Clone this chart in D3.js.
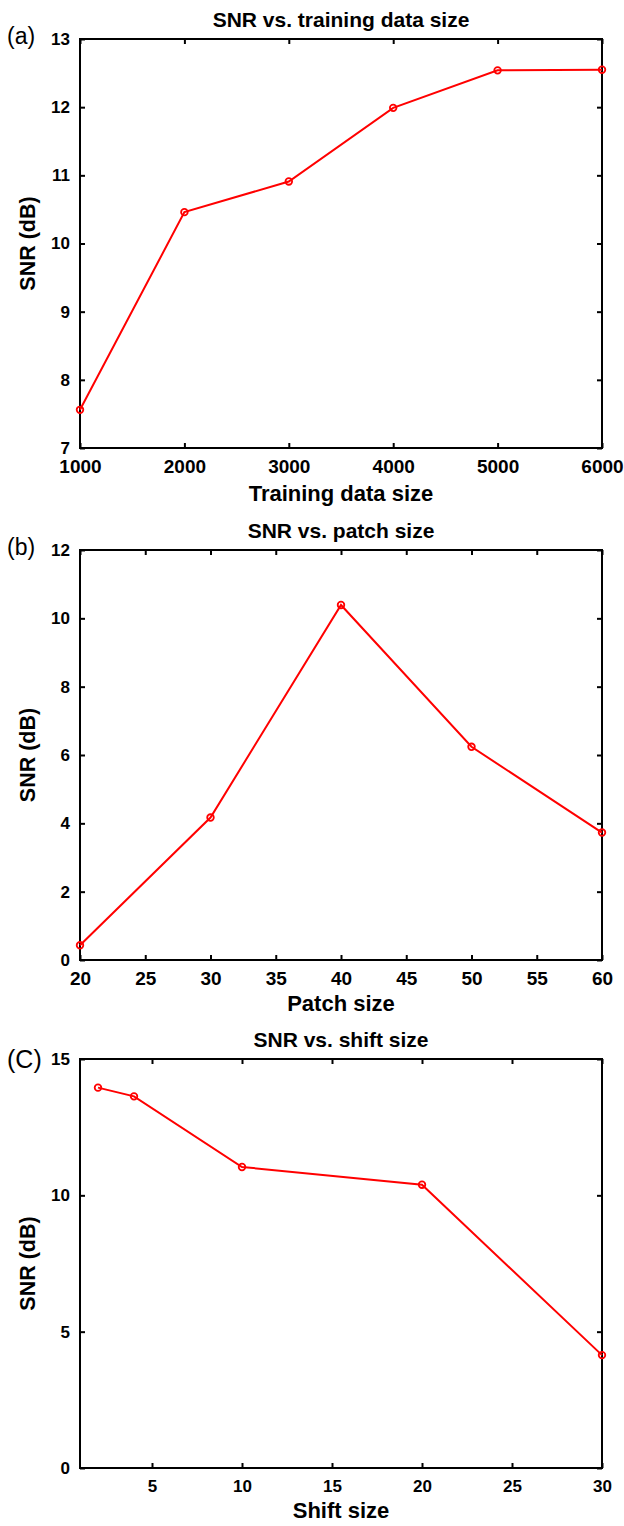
<!DOCTYPE html>
<html>
<head>
<meta charset="utf-8">
<script src="https://cdn.jsdelivr.net/npm/d3@7"></script>
<style>
  body { margin: 0; background: #fff; }
  svg text { font-family: "Liberation Sans", Arial, Helvetica, sans-serif; }
</style>
</head>
<body>
<div id="chart"></div>
<script>
// panel (a)
const trainSizes = [1000, 2000, 3000, 4000, 5000, 6000];
const trainSnr = [7.56, 10.46, 10.91, 11.99, 12.54, 12.55];
const trainXTicks = [1000, 2000, 3000, 4000, 5000, 6000];
const trainYTicks = [7, 8, 9, 10, 11, 12, 13];

// panel (b)
const patchSizes = [20, 30, 40, 50, 60];
const patchSnr = [0.43, 4.17, 10.39, 6.24, 3.73];
const patchXTicks = [20, 25, 30, 35, 40, 45, 50, 55, 60];
const patchYTicks = [0, 2, 4, 6, 8, 10, 12];

// panel (c)
const shiftSizes = [2, 4, 10, 20, 30];
const shiftSnr = [13.95, 13.63, 11.04, 10.39, 4.14];
const shiftXTicks = [5, 10, 15, 20, 25, 30];
const shiftYTicks = [0, 5, 10, 15];

const panels = [
  { tag: '(a)', tagSize: 23, tagDy: 5, title: 'SNR vs. training data size', xLabel: 'Training data size',
    xs: trainSizes, ys: trainSnr, xDomain: [1000, 6000], yDomain: [7, 13],
    xTicks: trainXTicks, yTicks: trainYTicks, top: 39, bottom: 448, xLabelDy: 53, xTickSize: 19 },
  { tag: '(b)', tagSize: 23, tagDy: 5, title: 'SNR vs. patch size', xLabel: 'Patch size',
    xs: patchSizes, ys: patchSnr, xDomain: [20, 60], yDomain: [0, 12],
    xTicks: patchXTicks, yTicks: patchYTicks, top: 550, bottom: 960, xLabelDy: 51, xTickSize: 19 },
  { tag: '(C)', tagSize: 25, tagDy: 9, title: 'SNR vs. shift size', xLabel: 'Shift size',
    xs: shiftSizes, ys: shiftSnr, xDomain: [1, 30], yDomain: [0, 15],
    xTicks: shiftXTicks, yTicks: shiftYTicks, top: 1059, bottom: 1468, xLabelDy: 50, xTickSize: 17 }
];

const W = 624, H = 1526;
const left = 80, right = 602;
const tickLen = 5;
const fmt = d3.format('d');

const svg = d3.select('#chart')
  .append('svg')
    .attr('width', W)
    .attr('height', H);

panels.forEach((p) => {
  const x = d3.scaleLinear().domain(p.xDomain).range([left, right]);
  const y = d3.scaleLinear().domain(p.yDomain).range([p.bottom, p.top]);
  const g = svg.append('g');

  // bottom / left axes, ticks pointing inward
  const xAxis = g.append('g')
    .attr('transform', 'translate(0,' + p.bottom + ')')
    .call(d3.axisBottom(x).tickValues(p.xTicks).tickFormat(fmt)
      .tickSizeInner(-tickLen).tickSizeOuter(0).tickPadding(12))
    .call((a) => a.select('.domain').remove());

  const yAxis = g.append('g')
    .attr('transform', 'translate(' + left + ',0)')
    .call(d3.axisLeft(y).tickValues(p.yTicks).tickFormat(fmt)
      .tickSizeInner(-tickLen).tickSizeOuter(0).tickPadding(10))
    .call((a) => a.select('.domain').remove());

  // mirrored ticks on top / right
  g.append('g')
    .attr('transform', 'translate(0,' + p.top + ')')
    .call(d3.axisTop(x).tickValues(p.xTicks).tickSizeInner(-tickLen).tickSizeOuter(0).tickFormat(''))
    .call((a) => a.select('.domain').remove());

  g.append('g')
    .attr('transform', 'translate(' + right + ',0)')
    .call(d3.axisRight(y).tickValues(p.yTicks).tickSizeInner(-tickLen).tickSizeOuter(0).tickFormat(''))
    .call((a) => a.select('.domain').remove());

  g.selectAll('.tick line')
    .attr('stroke', '#000')
    .attr('stroke-width', 2);

  xAxis.selectAll('.tick text')
    .attr('fill', '#000')
    .style('font-size', p.xTickSize + 'px')
    .style('font-weight', 'bold');

  yAxis.selectAll('.tick text')
    .attr('fill', '#000')
    .style('font-size', '17px')
    .style('font-weight', 'bold');

  // box
  g.append('rect')
    .attr('x', left)
    .attr('y', p.top)
    .attr('width', right - left)
    .attr('height', p.bottom - p.top)
    .attr('fill', 'none')
    .attr('stroke', '#000')
    .attr('stroke-width', 2);

  // data line
  const pts = p.xs.map((v, i) => [v, p.ys[i]]);
  g.append('path')
    .datum(pts)
    .attr('fill', 'none')
    .attr('stroke', '#ff0000')
    .attr('stroke-width', 2)
    .attr('d', d3.line().x((d) => x(d[0])).y((d) => y(d[1])));

  g.selectAll('.marker')
    .data(pts)
    .enter()
    .append('circle')
      .attr('cx', (d) => x(d[0]))
      .attr('cy', (d) => y(d[1]))
      .attr('r', 3.3)
      .attr('fill', 'none')
      .attr('stroke', '#ff0000')
      .attr('stroke-width', 1.8);

  // title
  g.append('text')
    .attr('x', (left + right) / 2)
    .attr('y', p.top - 12)
    .attr('text-anchor', 'middle')
    .style('font-size', '21px')
    .style('font-weight', 'bold')
    .text(p.title);

  // x label
  g.append('text')
    .attr('x', (left + right) / 2)
    .attr('y', p.bottom + p.xLabelDy)
    .attr('text-anchor', 'middle')
    .style('font-size', '22px')
    .style('font-weight', 'bold')
    .text(p.xLabel);

  // y label
  g.append('text')
    .attr('transform', 'translate(34.5,' + ((p.top + p.bottom) / 2) + ') rotate(-90)')
    .attr('text-anchor', 'middle')
    .style('font-size', '21.5px')
    .style('font-weight', 'bold')
    .text('SNR (dB)');

  // panel tag
  g.append('text')
    .attr('x', 7)
    .attr('y', p.top + p.tagDy)
    .style('font-size', p.tagSize + 'px')
    .text(p.tag);
});
</script>
</body>
</html>
